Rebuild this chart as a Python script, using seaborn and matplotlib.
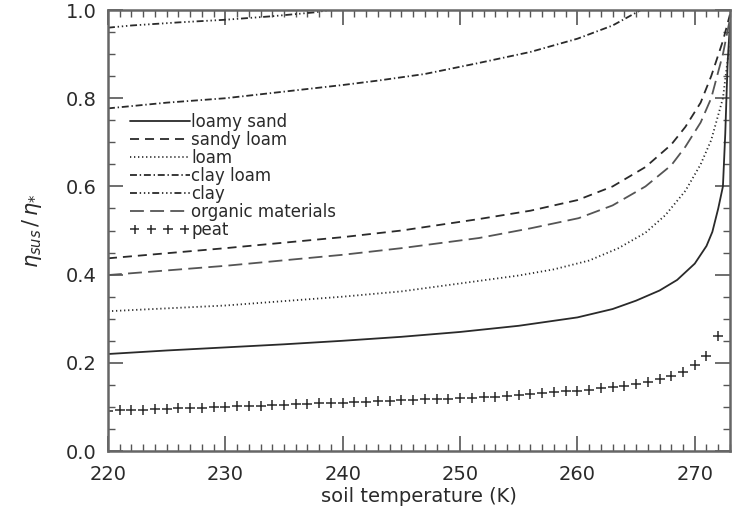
import numpy as np
import pandas as pd
import matplotlib
matplotlib.use("Agg")
import matplotlib.pyplot as plt
from matplotlib.ticker import MultipleLocator
import seaborn as sns

# Soil temperature grids (K) and ratio values per soil class
t_loamy_sand = [220, 225, 230, 235, 240, 245, 250, 255, 260, 263, 265, 267, 268.5,
                270, 271, 271.5, 272, 272.4, 272.6, 272.8, 273]
v_loamy_sand = [0.22, 0.228, 0.235, 0.242, 0.25, 0.259, 0.27, 0.284, 0.303, 0.322,
                0.341, 0.364, 0.388, 0.425, 0.465, 0.497, 0.55, 0.60, 0.72, 0.88, 0.97]

t_sandy_loam = [220, 230, 240, 245, 251.6, 256, 260, 263, 265.8, 268, 269.2, 270.5,
                271.4, 272.4, 273]
v_sandy_loam = [0.437, 0.46, 0.485, 0.50, 0.526, 0.545, 0.569, 0.60, 0.644, 0.695,
                0.735, 0.79, 0.85, 0.93, 0.99]

t_loam = [220, 230, 240, 245, 250, 255, 258, 261, 263.5, 265.8, 267.5, 269.2,
          270.5, 271.4, 272.4, 273]
v_loam = [0.317, 0.33, 0.35, 0.362, 0.38, 0.398, 0.412, 0.432, 0.46, 0.495, 0.535,
          0.59, 0.65, 0.705, 0.80, 0.93]

t_clay_loam = [220, 225, 230, 235, 240, 243, 247, 251.6, 256, 260, 263, 265.4, 266.5]
v_clay_loam = [0.777, 0.79, 0.80, 0.815, 0.83, 0.84, 0.855, 0.88, 0.905, 0.935,
               0.965, 1.0, 1.02]

t_clay = [220, 222, 226, 230, 234, 237.7, 239.5, 241]
v_clay = [0.96, 0.965, 0.972, 0.978, 0.986, 0.995, 1.003, 1.01]

t_organic = [220, 230, 240, 245, 251.6, 256, 260.1, 263, 265.8, 268, 269.2, 270.5,
             271.4, 272.4, 273]
v_organic = [0.399, 0.42, 0.445, 0.46, 0.483, 0.505, 0.528, 0.557, 0.60, 0.648, 0.69,
             0.745, 0.80, 0.90, 0.98]

t_peat = list(range(220, 273))
v_peat = [0.091, 0.092, 0.093, 0.094, 0.095, 0.096, 0.097, 0.098, 0.098, 0.099,
          0.100, 0.101, 0.102, 0.103, 0.104, 0.105, 0.106, 0.107, 0.108, 0.109,
          0.110, 0.111, 0.112, 0.113, 0.114, 0.115, 0.116, 0.117, 0.118, 0.119,
          0.120, 0.121, 0.122, 0.123, 0.125, 0.127, 0.129, 0.131, 0.133, 0.135,
          0.137, 0.139, 0.142, 0.145, 0.148, 0.152, 0.157, 0.163, 0.170, 0.180,
          0.195, 0.215, 0.260]

x_ticks = [220, 230, 240, 250, 260, 270]
y_ticks = [0.0, 0.2, 0.4, 0.6, 0.8, 1.0]

sns.set_style("ticks")
plt.rcParams["font.family"] = ["DejaVu Sans"]
plt.rcParams["lines.scale_dashes"] = False

ink = "#2a2a2a"
fig = plt.figure(figsize=(7.36, 5.29), dpi=100)
ax = fig.add_axes([0.1467, 0.1474, 0.8451, 0.8336])

series = [
    ("loamy sand", t_loamy_sand, v_loamy_sand, "-", ink),
    ("sandy loam", t_sandy_loam, v_sandy_loam, (0, (6.5, 4.3)), ink),
    ("loam", t_loam, v_loam, (0, (0.9, 2.0)), ink),
    ("clay loam", t_clay_loam, v_clay_loam, (0, (5, 2, 1, 2)), ink),
    ("clay", t_clay, v_clay, (0, (5, 2, 1, 2, 1, 2, 1, 2)), ink),
    ("organic materials", t_organic, v_organic, (0, (10, 4.5)), "#555555"),
]
for name, t, v, ls, col in series:
    df = pd.DataFrame({"T": t, "v": v})
    sns.lineplot(data=df, x="T", y="v", ax=ax, color=col, linewidth=1.3,
                 linestyle=ls, label=name)

peat_df = pd.DataFrame({"T": t_peat, "v": v_peat})
sns.scatterplot(data=peat_df, x="T", y="v", ax=ax, marker="+", s=45,
                color=ink, linewidth=1.1, label="peat")

ax.set_xlim(220, 273)
ax.set_ylim(0, 1.0)
ax.set_xticks(x_ticks)
ax.set_xticklabels([str(x) for x in x_ticks])
ax.set_yticks(y_ticks)
ax.set_yticklabels([f"{y:.1f}" for y in y_ticks])
ax.xaxis.set_minor_locator(MultipleLocator(1))
ax.yaxis.set_minor_locator(MultipleLocator(0.05))
ax.tick_params(which="both", direction="in", top=True, right=True, colors="#555555",
               labelcolor=ink, labelsize=14)
ax.tick_params(which="major", length=11, width=1.2)
ax.tick_params(which="minor", length=5, width=1.0)
ax.tick_params(axis="x", pad=10)
ax.tick_params(axis="y", pad=8)
for sp in ax.spines.values():
    sp.set_color("#666666")
    sp.set_linewidth(1.8)

ax.set_xlabel("soil temperature (K)", fontsize=14, color=ink, labelpad=2)
ax.set_ylabel(r"$\eta_{sus}\,/\,\eta_{*}$", fontsize=15, color=ink, labelpad=16)

leg = ax.legend(loc="upper left", bbox_to_anchor=(0.035, 0.766), frameon=False,
                fontsize=12, handlelength=3.6, handletextpad=0.1, labelspacing=0.0,
                borderaxespad=0, borderpad=0, labelcolor=ink, scatterpoints=4,
                scatteryoffsets=[0.5])

fig.savefig("out.png", dpi=100)
